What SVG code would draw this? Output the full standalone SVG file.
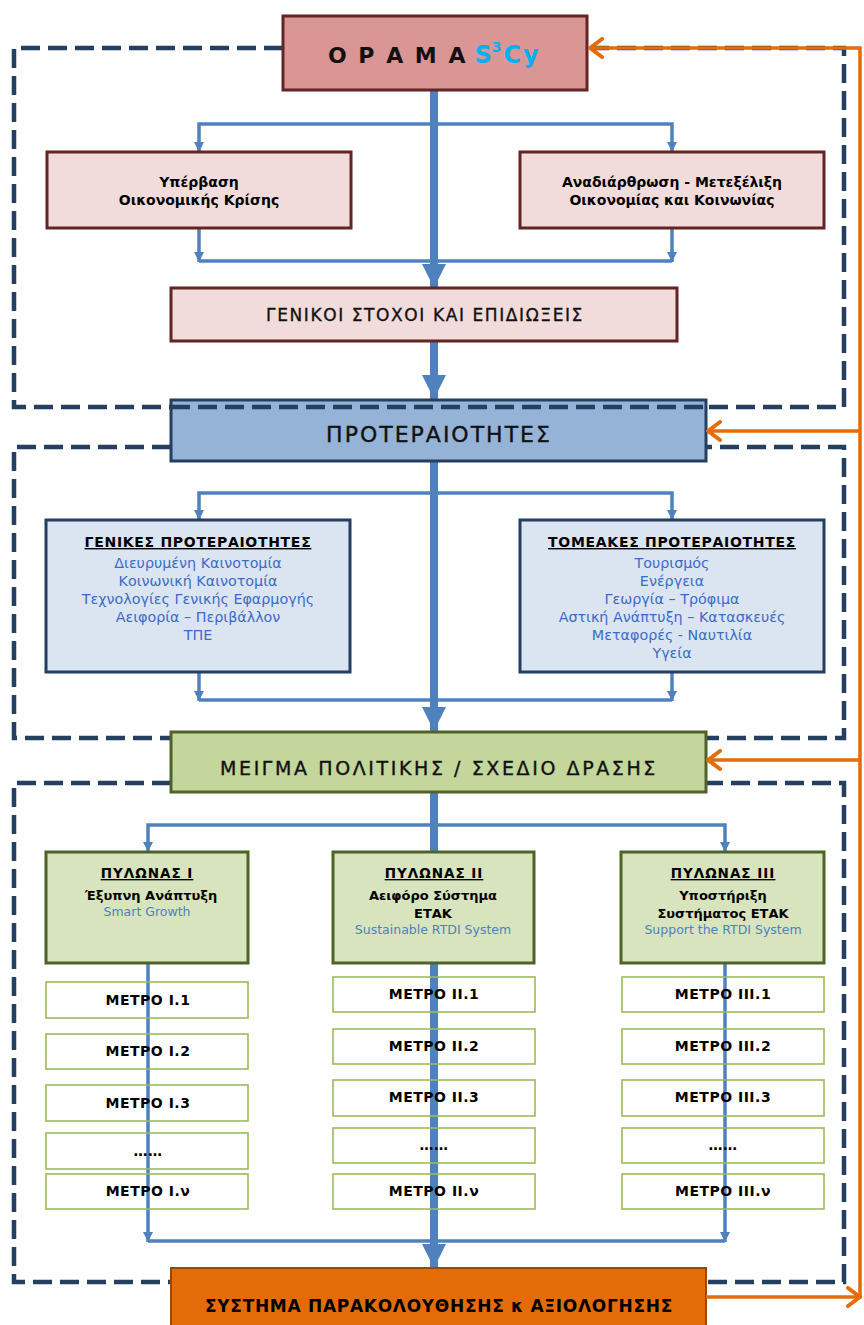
<svg xmlns="http://www.w3.org/2000/svg" width="864" height="1325" viewBox="0 0 864 1325">
<defs>
<style>
.t{font-family:"DejaVu Sans","Verdana",sans-serif;text-anchor:middle}
.b{font-weight:bold}
.hd{fill:#111111;stroke:#111111;stroke-width:0.35}
.frame{fill:none;stroke:#243f60;stroke-width:4.5;stroke-dasharray:19 8}
.thick{fill:none;stroke:#4f81bd;stroke-width:8}
.thin{fill:none;stroke:#4f81bd;stroke-width:3.5}
.or{fill:none;stroke:#e46c0a;stroke-width:3.5}
.pink{fill:#f2dcdb;stroke:#632523;stroke-width:3}
.lblue{fill:#dbe5f1;stroke:#243f60;stroke-width:3}
.lgreen{fill:#d7e4bd;stroke:#4f6228;stroke-width:3}
.meas{fill:none;stroke:#9bbb59;stroke-width:1.6}
.item{fill:#3a6bc6;font-size:14.3px}
.eng{fill:#4f81bd;font-size:12.5px}
.mt{font-size:14px;letter-spacing:0.5px}
.pt{font-size:13.5px;letter-spacing:1px}
.ph{font-size:13px}
</style>
<marker id="ah" viewBox="0 0 24 24" refX="24" refY="12" markerWidth="24" markerHeight="24" markerUnits="userSpaceOnUse" orient="auto"><path d="M0,0 L24,12 L0,24 z" fill="#4f81bd"/></marker>
<marker id="ah2" viewBox="0 0 10 10" refX="10" refY="5" markerWidth="10" markerHeight="10" markerUnits="userSpaceOnUse" orient="auto"><path d="M0,0 L10,5 L0,10 z" fill="#4f81bd"/></marker>
<marker id="oh" viewBox="0 0 18 22" refX="15" refY="11" markerWidth="18" markerHeight="22" markerUnits="userSpaceOnUse" orient="auto"><path d="M3,2 L15,11 L3,20" fill="none" stroke="#e46c0a" stroke-width="4" stroke-linecap="round" stroke-linejoin="round"/></marker>
</defs>
<rect width="864" height="1325" fill="#ffffff"/>

<g id="frames">
<path class="frame" d="M283,48 H14 V407 H844 V48 H587"/>
<path class="frame" d="M171,447 H14 V738 H844 V447 H706"/>
<path class="frame" d="M171,783 H14 V1282 H844 V783 H706"/>
</g>

<g id="connectors">
<path class="thick" d="M434,90 V288" marker-end="url(#ah)"/>
<path class="thick" d="M434,341 V399" marker-end="url(#ah)"/>
<path class="thick" d="M434,461 V731" marker-end="url(#ah)"/>
<path class="thick" d="M434,792 V852"/>
<path class="thick" d="M434,963 V1268" marker-end="url(#ah)"/>
<path class="thin" d="M434,124 H199 V152" marker-end="url(#ah2)"/>
<path class="thin" d="M434,124 H672 V152" marker-end="url(#ah2)"/>
<path class="thin" d="M199,228 V262" marker-end="url(#ah2)"/>
<path class="thin" d="M672,228 V262" marker-end="url(#ah2)"/>
<path class="thin" d="M199,261 H672" stroke-width="4"/>
<path class="thin" d="M434,493 H199 V520" marker-end="url(#ah2)"/>
<path class="thin" d="M434,493 H672 V520" marker-end="url(#ah2)"/>
<path class="thin" d="M199,672 V701" marker-end="url(#ah2)"/>
<path class="thin" d="M672,672 V701" marker-end="url(#ah2)"/>
<path class="thin" d="M199,700 H672" stroke-width="4"/>
<path class="thin" d="M434,825 H148 V852" marker-end="url(#ah2)"/>
<path class="thin" d="M434,825 H725 V852" marker-end="url(#ah2)"/>
<path class="thin" d="M148,963 V1242" marker-end="url(#ah2)"/>
<path class="thin" d="M725,963 V1242" marker-end="url(#ah2)"/>
<path class="thin" d="M148,1241 H725" stroke-width="4"/>
</g>

<g id="vision">
<rect x="283" y="16" width="304" height="74" fill="#d99694" stroke="#632523" stroke-width="3"/>
<text x="328" y="63" font-family="DejaVu Sans, sans-serif" font-weight="bold" font-size="22" letter-spacing="2" fill="#111111">O P A M A<tspan fill="#00b0f0" letter-spacing="0" font-size="24" dx="7">S</tspan><tspan fill="#00b0f0" font-size="14" dy="-11">3</tspan><tspan fill="#00b0f0" font-size="24" dy="11">Cy</tspan></text>
</g>

<g id="crisis">
<rect class="pink" x="47" y="152" width="304" height="76"/>
<text class="t b" font-size="14" x="199" y="187">Υπέρβαση</text>
<text class="t b" font-size="14" x="199" y="205">Οικονομικής Κρίσης</text>
</g>
<g id="restructuring">
<rect class="pink" x="520" y="152" width="304" height="76"/>
<text class="t b" font-size="14" x="672" y="187">Αναδιάρθρωση - Μετεξέλιξη</text>
<text class="t b" font-size="14" x="672" y="205">Οικονομίας και Κοινωνίας</text>
</g>
<g id="goals">
<rect class="pink" x="171" y="288" width="506" height="53"/>
<text class="t hd" font-size="17" letter-spacing="1.6" x="425" y="321">ΓΕΝΙΚΟΙ ΣΤΟΧΟΙ ΚΑΙ ΕΠΙΔΙΩΞΕΙΣ</text>
</g>

<g id="priorities">
<rect x="171" y="400" width="535" height="61" fill="#95b3d7" stroke="#243f60" stroke-width="3"/>
<text class="t hd" font-size="22" letter-spacing="2" x="439" y="442">ΠΡΟΤΕΡΑΙΟΤΗΤΕΣ</text>
</g>
<path class="frame" d="M171,407 H706"/>

<g id="general-priorities">
<rect class="lblue" x="46" y="520" width="304" height="152"/>
<text class="t b" font-size="14" letter-spacing="0.7" x="198" y="547" text-decoration="underline">ΓΕΝΙΚΕΣ ΠΡΟΤΕΡΑΙΟΤΗΤΕΣ</text>
<text class="t item" x="198" y="568">Διευρυμένη Καινοτομία</text>
<text class="t item" x="198" y="586">Κοινωνική Καινοτομία</text>
<text class="t item" x="198" y="604">Τεχνολογίες Γενικής Εφαρμογής</text>
<text class="t item" x="198" y="622">Αειφορία – Περιβάλλον</text>
<text class="t item" x="198" y="640">ΤΠΕ</text>
</g>
<g id="sector-priorities">
<rect class="lblue" x="520" y="520" width="304" height="152"/>
<text class="t b" font-size="14" letter-spacing="0.7" x="672" y="547" text-decoration="underline">ΤΟΜΕΑΚΕΣ ΠΡΟΤΕΡΑΙΟΤΗΤΕΣ</text>
<text class="t item" x="672" y="568">Τουρισμός</text>
<text class="t item" x="672" y="586">Ενέργεια</text>
<text class="t item" x="672" y="604">Γεωργία – Τρόφιμα</text>
<text class="t item" x="672" y="622">Αστική Ανάπτυξη – Κατασκευές</text>
<text class="t item" x="672" y="640">Μεταφορές - Ναυτιλία</text>
<text class="t item" x="672" y="658">Υγεία</text>
</g>

<g id="policy-mix">
<rect x="171" y="732" width="535" height="60" fill="#c3d69b" stroke="#4f6228" stroke-width="3"/>
<text class="t hd" font-size="19" letter-spacing="2.6" x="439" y="775">ΜΕΙΓΜΑ ΠΟΛΙΤΙΚΗΣ / ΣΧΕΔΙΟ ΔΡΑΣΗΣ</text>
</g>

<g id="pillar-1">
<rect class="lgreen" x="46" y="852" width="202" height="111"/>
<text class="t b pt" x="147" y="878" text-decoration="underline">ΠΥΛΩΝΑΣ Ι</text>
<text class="t b ph" x="151" y="900">Έξυπνη Ανάπτυξη</text>
<text class="t eng" x="147" y="916">Smart Growth</text>
</g>
<g id="pillar-2">
<rect class="lgreen" x="333" y="852" width="201" height="111"/>
<text class="t b pt" x="434" y="878" text-decoration="underline">ΠΥΛΩΝΑΣ ΙΙ</text>
<text class="t b ph" x="433" y="900">Αειφόρο Σύστημα</text>
<text class="t b ph" x="433" y="918">ΕΤΑΚ</text>
<text class="t eng" x="433" y="934">Sustainable RTDI System</text>
</g>
<g id="pillar-3">
<rect class="lgreen" x="621" y="852" width="203" height="111"/>
<text class="t b pt" x="723" y="878" text-decoration="underline">ΠΥΛΩΝΑΣ ΙΙΙ</text>
<text class="t b ph" x="723" y="900">Υποστήριξη</text>
<text class="t b ph" x="723" y="918">Συστήματος ΕΤΑΚ</text>
<text class="t eng" x="723" y="934">Support the RTDI System</text>
</g>

<g id="measures-1">
<rect class="meas" x="46" y="982" width="202" height="36"/><text class="t b mt" x="148" y="1005">ΜΕΤΡΟ Ι.1</text>
<rect class="meas" x="46" y="1034" width="202" height="35"/><text class="t b mt" x="148" y="1056">ΜΕΤΡΟ Ι.2</text>
<rect class="meas" x="46" y="1085" width="202" height="36"/><text class="t b mt" x="148" y="1108">ΜΕΤΡΟ Ι.3</text>
<rect class="meas" x="46" y="1133" width="202" height="36"/><text class="t b mt" x="148" y="1156">……</text>
<rect class="meas" x="46" y="1174" width="202" height="35"/><text class="t b mt" x="148" y="1196">ΜΕΤΡΟ Ι.ν</text>
</g>
<g id="measures-2">
<rect class="meas" x="333" y="977" width="202" height="35"/><text class="t b mt" x="434" y="999">ΜΕΤΡΟ ΙΙ.1</text>
<rect class="meas" x="333" y="1029" width="202" height="35"/><text class="t b mt" x="434" y="1051">ΜΕΤΡΟ ΙΙ.2</text>
<rect class="meas" x="333" y="1080" width="202" height="36"/><text class="t b mt" x="434" y="1102">ΜΕΤΡΟ ΙΙ.3</text>
<rect class="meas" x="333" y="1128" width="202" height="35"/><text class="t b mt" x="434" y="1150">……</text>
<rect class="meas" x="333" y="1174" width="202" height="35"/><text class="t b mt" x="434" y="1196">ΜΕΤΡΟ ΙΙ.ν</text>
</g>
<g id="measures-3">
<rect class="meas" x="622" y="977" width="202" height="35"/><text class="t b mt" x="723" y="999">ΜΕΤΡΟ ΙΙΙ.1</text>
<rect class="meas" x="622" y="1029" width="202" height="35"/><text class="t b mt" x="723" y="1051">ΜΕΤΡΟ ΙΙΙ.2</text>
<rect class="meas" x="622" y="1080" width="202" height="36"/><text class="t b mt" x="723" y="1102">ΜΕΤΡΟ ΙΙΙ.3</text>
<rect class="meas" x="622" y="1128" width="202" height="35"/><text class="t b mt" x="723" y="1150">……</text>
<rect class="meas" x="622" y="1174" width="202" height="35"/><text class="t b mt" x="723" y="1196">ΜΕΤΡΟ ΙΙΙ.ν</text>
</g>

<g id="monitoring">
<rect x="171" y="1268" width="535" height="62" fill="#e36c09" stroke="#984807" stroke-width="2"/>
<text class="t b" font-size="17" letter-spacing="0.7" x="439" y="1312">ΣΥΣΤΗΜΑ ΠΑΡΑΚΟΛΟΥΘΗΣΗΣ κ ΑΞΙΟΛΟΓΗΣΗΣ</text>
</g>

<g id="feedback">
<path class="or" d="M860,1297 V48 H590" marker-end="url(#oh)"/>
<path class="or" d="M860,431 H708" marker-end="url(#oh)"/>
<path class="or" d="M860,760 H708" marker-end="url(#oh)"/>
<path class="or" d="M706,1297 H860" marker-end="url(#oh)"/>
</g>
</svg>
